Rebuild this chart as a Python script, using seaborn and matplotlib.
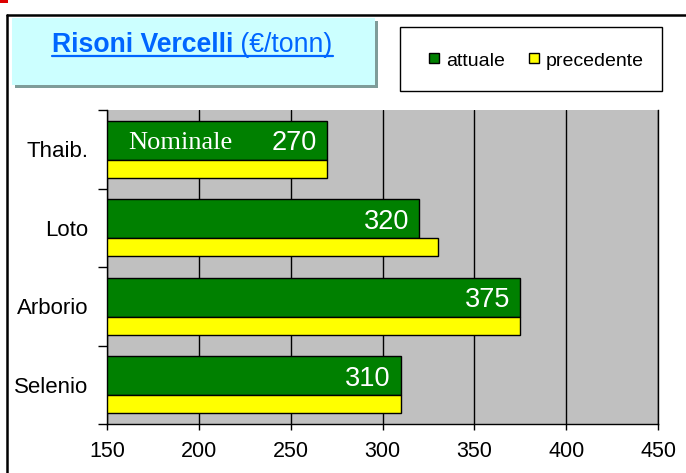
import matplotlib
matplotlib.use('Agg')
import matplotlib.pyplot as plt
import seaborn as sns
import pandas as pd
from matplotlib.patches import Rectangle
from matplotlib.lines import Line2D

# ---- data ----
categories = ["Thaib.", "Loto", "Arborio", "Selenio"]
attuale = [270, 320, 375, 310]
precedente = [270, 330, 375, 310]
series_names = ["attuale", "precedente"]
x_ticks = [150, 200, 250, 300, 350, 400, 450]
title_bold = "Risoni Vercelli"
title_rest = " (€/tonn)"
note_text = "Nominale"

GREEN = '#008000'
YELLOW = '#ffff00'
BLUE = '#0066ff'

sns.set_theme(style="white")
plt.rcParams['font.family'] = ['Liberation Sans', 'DejaVu Sans']

W, H = 686, 473
fig = plt.figure(figsize=(W / 100, H / 100), dpi=100)
fig.patch.set_facecolor('white')


def fx(x):
    return x / W


def fy(y):
    return 1 - y / H


df = pd.DataFrame({
    'cat': categories * 2,
    'val': attuale + precedente,
    'serie': [series_names[0]] * len(categories) + [series_names[1]] * len(categories),
})

ax = fig.add_axes([fx(107), fy(424), (658 - 107) / W, (424 - 110) / H])
ax.set_facecolor('#c0c0c0')
sns.barplot(data=df, y='cat', x='val', hue='serie', orient='h', order=categories,
            hue_order=series_names, palette=[GREEN, YELLOW], width=0.726, dodge=True,
            edgecolor='black', linewidth=1.0, saturation=1, legend=False, ax=ax)

# unequal thickness of the two bars in each group (green thicker)
bars = sorted(ax.patches, key=lambda p: p.get_y())
green_bars = bars[0::2]
yellow_bars = bars[1::2]
for g, yb in zip(green_bars, yellow_bars):
    top = g.get_y()
    total = g.get_height() + yb.get_height()
    gh = total * 0.684
    g.set_height(gh)
    yb.set_y(top + gh)
    yb.set_height(total - gh)

ax.set_xlim(x_ticks[0], x_ticks[-1])
ax.set_ylim(len(categories) - 0.5, -0.5)
ax.set_xticks(x_ticks)
ax.set_xticklabels([str(t) for t in x_ticks])
ax.set_yticks([i - 0.5 for i in range(len(categories) + 1)])
ax.set_yticklabels([])
ax.set_yticks(range(len(categories)), minor=True)
ax.set_yticklabels(categories, minor=True)
ax.set_xlabel('')
ax.set_ylabel('')
ax.tick_params(axis='x', which='major', direction='out', length=4.5, width=1, color='black',
               labelsize=15.5, pad=7.5, bottom=True, labelcolor='black')
ax.tick_params(axis='y', which='major', direction='out', length=6.5, width=1, color='black', left=True)
ax.tick_params(axis='y', which='minor', length=0, labelsize=16, pad=13.5, labelcolor='black')

ax.set_axisbelow(True)
ax.xaxis.grid(True, color='black', linewidth=1.0)
ax.yaxis.grid(False)
for side in ['left', 'bottom', 'right']:
    ax.spines[side].set_visible(True)
    ax.spines[side].set_color('black')
    ax.spines[side].set_linewidth(1.0)
ax.spines['top'].set_visible(False)

# value labels
for g, v in zip(green_bars, attuale):
    cy = g.get_y() + g.get_height() / 2
    ax.annotate(str(v), xy=(v, cy), xytext=(-7.5, 0), textcoords='offset points',
                ha='right', va='center_baseline', color='white', fontsize=19.5)

g0 = green_bars[0]
ax.annotate(note_text, xy=(x_ticks[0], g0.get_y() + g0.get_height() / 2), xytext=(15, 0),
            textcoords='offset points', ha='left', va='center_baseline', color='white',
            fontsize=19, fontfamily=['Liberation Serif', 'DejaVu Serif'])

# ---- title box ----
fig.patches.append(Rectangle((fx(15), fy(88)), (378 - 15) / W, (88 - 21) / H,
                             transform=fig.transFigure, facecolor='#7f9c99', edgecolor='none', zorder=1))
fig.patches.append(Rectangle((fx(12), fy(85)), (375 - 12) / W, (85 - 18) / H,
                             transform=fig.transFigure, facecolor='#ccffff', edgecolor='none', zorder=2))
t1 = fig.text(fx(52), fy(52.5), title_bold, fontsize=19.2, fontweight='bold', color=BLUE,
              ha='left', va='baseline', zorder=3)
fig.canvas.draw()
r = fig.canvas.get_renderer()
bb1 = t1.get_window_extent(r)
t2 = fig.text(bb1.x1 / W, fy(52.5), title_rest, fontsize=19.2, color=BLUE,
              ha='left', va='baseline', zorder=3)
bb2 = t2.get_window_extent(r)
fig.lines.append(Line2D([fx(52), bb2.x1 / W], [fy(56.5), fy(56.5)], transform=fig.transFigure,
                        color=BLUE, linewidth=1.6, zorder=3))

# ---- legend box ----
fig.patches.append(Rectangle((fx(400), fy(91)), (662 - 400) / W, (91 - 27) / H,
                             transform=fig.transFigure, facecolor='white', edgecolor='black',
                             linewidth=1.0, zorder=2))
leg_items = [(series_names[0], GREEN, 429, 446), (series_names[1], YELLOW, 529, 546)]
for name, col, mx, tx in leg_items:
    fig.patches.append(Rectangle((fx(mx), fy(63)), 10 / W, 10 / H, transform=fig.transFigure,
                                 facecolor=col, edgecolor='black', linewidth=1.0, zorder=3))
    fig.text(fx(tx), fy(66), name, fontsize=14, color='black', ha='left', va='baseline', zorder=3)

# ---- outer frame ----
fig.lines.append(Line2D([fx(7), fx(7)], [fy(15), 0], transform=fig.transFigure,
                        color='black', linewidth=1.8, zorder=4))
fig.lines.append(Line2D([fx(7), 1], [fy(15), fy(15)], transform=fig.transFigure,
                        color='black', linewidth=1.8, zorder=4))
fig.patches.append(Rectangle((0, fy(3)), 8 / W, 3 / H, transform=fig.transFigure,
                             facecolor='#dd0000', edgecolor='none', zorder=4))

fig.savefig('out.png', dpi=100)
